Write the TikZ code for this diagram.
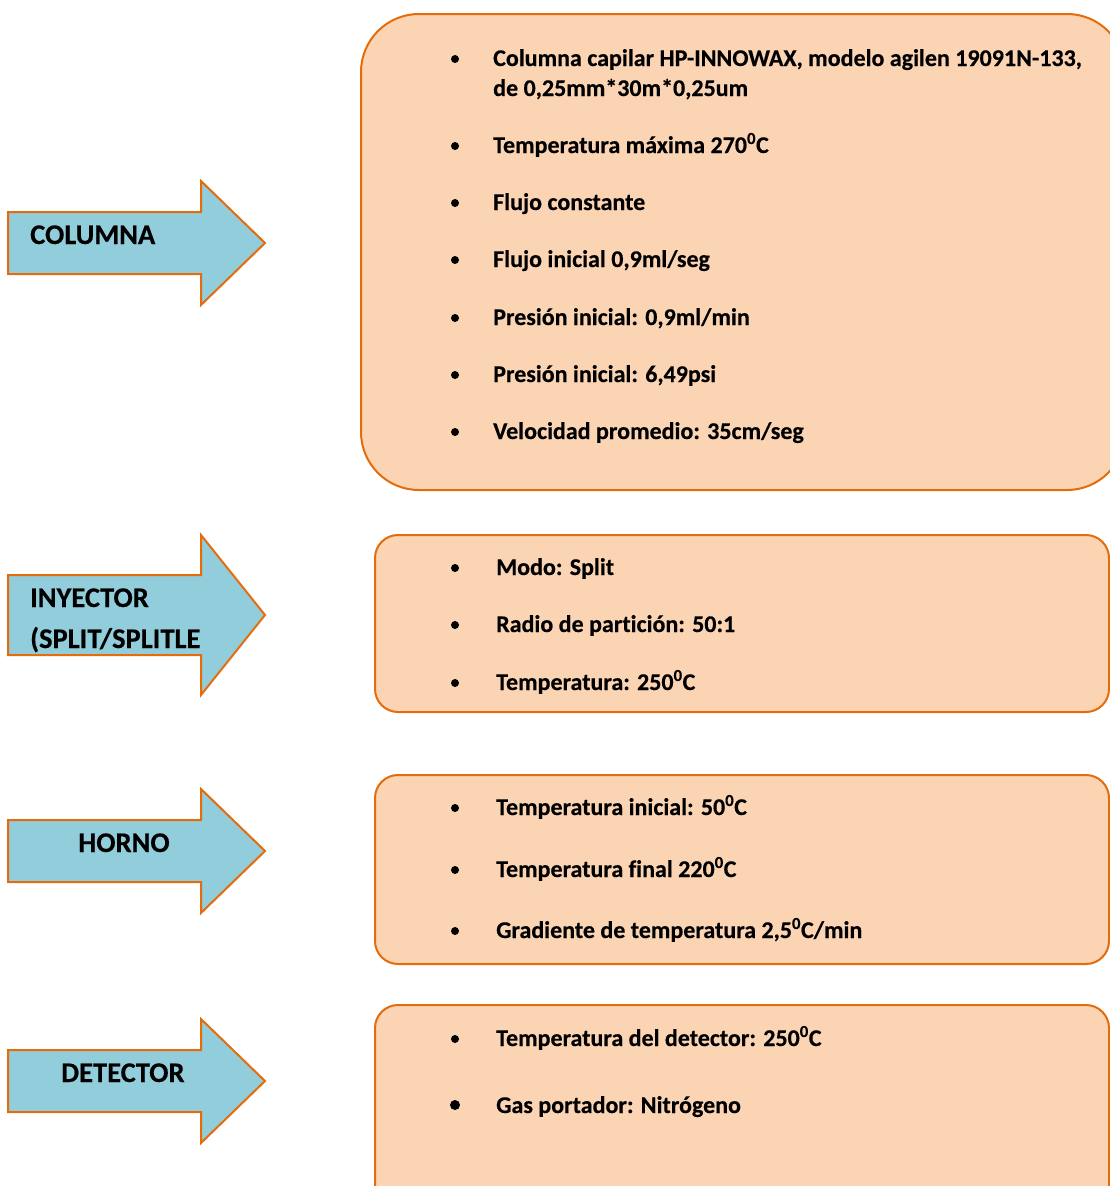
\documentclass[tikz,border=0pt]{standalone}
\usepackage{fontspec}
\setmainfont[Ligatures={NoCommon},BoldFeatures={FakeBold=0.4}]{Carlito}
\definecolor{arrowfill}{HTML}{92CDDC}
\definecolor{edgeorange}{HTML}{E46C0A}
\definecolor{boxfill}{HTML}{FBD4B4}
\tikzset{
  arrowshape/.style={fill=arrowfill, draw=edgeorange, line width=2pt, line join=miter},
  infobox/.style={fill=boxfill, draw=edgeorange, line width=2pt},
  itemtext/.style={anchor=base west, inner sep=0pt, font=\fontsize{24}{30}\selectfont\bfseries, align=left},
  labeltext/.style={anchor=base west, inner sep=0pt, font=\fontsize{28.5}{41}\selectfont\bfseries, align=left},
  dotmark/.style={fill=black, draw=none}
}
\newcommand{\degsup}{\textsuperscript{0}}
\begin{document}
\begin{tikzpicture}[x=1pt,y=-1pt]
\useasboundingbox (0,0) rectangle (1110,1186);
\clip (0,0) rectangle (1110,1186);

% arrows
\draw[arrowshape] (8,212) -- (201,212) -- (201,181) -- (265,243) -- (201,305) -- (201,274) -- (8,274) -- cycle;
\draw[arrowshape] (8,575) -- (201,575) -- (201,535) -- (265,615) -- (201,695) -- (201,655) -- (8,655) -- cycle;
\draw[arrowshape] (8,820) -- (201,820) -- (201,789) -- (265,851) -- (201,913) -- (201,882) -- (8,882) -- cycle;
\draw[arrowshape] (8,1050) -- (201,1050) -- (201,1019) -- (265,1081) -- (201,1143) -- (201,1112) -- (8,1112) -- cycle;

\node[labeltext] (lcol) at (30,244) {COLUMNA};
\node[labeltext] (liny) at (30,648) {INYECTOR\\(SPLIT/SPLITLE};
\node[labeltext, anchor=base] (lhor) at (124,852) {HORNO};
\node[labeltext] (ldet) at (61,1082) {DETECTOR};

% boxes
\draw[infobox, rounded corners=58pt] (361,14) rectangle (1125,490);
\draw[infobox, rounded corners=23pt] (375,535) rectangle (1109,712);
\draw[infobox, rounded corners=23pt] (375,775) rectangle (1109,964);
\draw[infobox, rounded corners=23pt] (375,1005) rectangle (1109,1230);

% box 1 items
\foreach \yy in {59,146,203,260,318,375,432} \fill[dotmark] (455,\yy) circle (4pt);
\node[itemtext] (c1) at (493,96) {Columna capilar HP-INNOWAX, modelo agilen 19091N-133,\\de 0,25mm*30m*0,25um};
\node[itemtext] (c2) at (493,153) {Temperatura máxima 270\degsup C};
\node[itemtext] (c3) at (493,210) {Flujo constante};
\node[itemtext] (c4) at (493,267) {Flujo inicial 0,9ml/seg};
\node[itemtext] (c5) at (493,325) {Presión inicial: 0,9ml/min};
\node[itemtext] (c6) at (493,382) {Presión inicial: 6,49psi};
\node[itemtext] (c7) at (493,439) {Velocidad promedio: 35cm/seg};

% box 2 items
\foreach \yy in {568,625,683} \fill[dotmark] (455,\yy) circle (4pt);
\node[itemtext] (i1) at (496,575) {Modo: Split};
\node[itemtext] (i2) at (496,632) {Radio de partición: 50:1};
\node[itemtext] (i3) at (496,690) {Temperatura: 250\degsup C};

% box 3 items
\foreach \yy in {808,870,931} \fill[dotmark] (455,\yy) circle (4pt);
\node[itemtext] (h1) at (496,815) {Temperatura inicial: 50\degsup C};
\node[itemtext] (h2) at (496,877) {Temperatura final 220\degsup C};
\node[itemtext] (h3) at (496,938) {Gradiente de temperatura 2,5\degsup C/min};

% box 4 items
\fill[dotmark] (455,1039) circle (4pt);
\fill[dotmark] (455,1105) circle (5pt);
\node[itemtext] (d1) at (496,1046) {Temperatura del detector: 250\degsup C};
\node[itemtext] (d2) at (496,1113) {Gas portador: Nitrógeno};
\end{tikzpicture}
\end{document}
